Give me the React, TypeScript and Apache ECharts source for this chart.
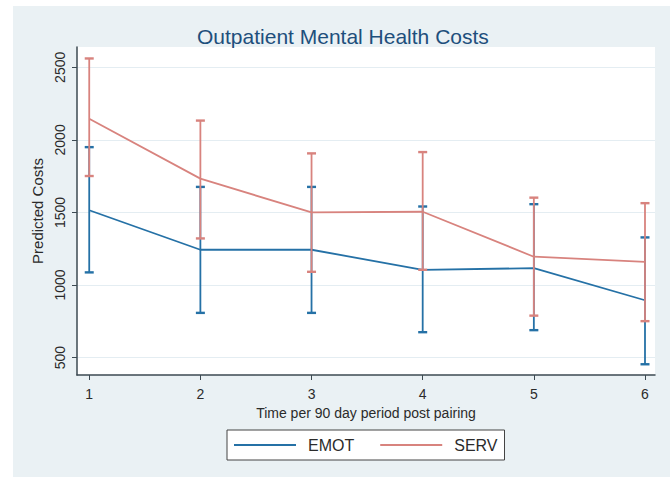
import React, { useEffect, useRef } from "react";
import * as echarts from "echarts";

const periods = [1, 2, 3, 4, 5, 6];
const emotMean = [1515, 1243, 1243, 1105, 1116, 895];
const emotLower = [1087, 808, 808, 675, 689, 454];
const emotUpper = [1950, 1676, 1676, 1541, 1557, 1328];
const servMean = [2146, 1733, 1500, 1505, 1195, 1160];
const servLower = [1751, 1321, 1091, 1105, 789, 751];
const servUpper = [2561, 2133, 1907, 1916, 1602, 1564];
const yTicks = [500, 1000, 1500, 2000, 2500];

const BLUE = "#2571a6";
const RED = "#d8837e";
const FONT = "Liberation Sans, Arial, sans-serif";

function errorBars(lower: number[], upper: number[]) {
  return periods.map((p, i) => [p, lower[i], upper[i]]);
}

function makeRender(color: string) {
  return (params: any, api: any) => {
    const x = api.value(0);
    const lo = api.coord([x, api.value(1)]);
    const hi = api.coord([x, api.value(2)]);
    const hw = 4.5;
    const style = { stroke: color, lineWidth: 1.8 };
    return {
      type: "group",
      children: [
        { type: "line", shape: { x1: lo[0], y1: lo[1], x2: hi[0], y2: hi[1] }, style },
        { type: "line", shape: { x1: lo[0] - hw, y1: lo[1], x2: lo[0] + hw, y2: lo[1] }, style: { stroke: color, lineWidth: 2.4 } },
        { type: "line", shape: { x1: hi[0] - hw, y1: hi[1], x2: hi[0] + hw, y2: hi[1] }, style: { stroke: color, lineWidth: 2.4 } },
      ],
    };
  };
}

export default function App() {
  const ref = useRef<HTMLDivElement>(null);
  useEffect(() => {
    if (!ref.current) return;
    const chart = echarts.init(ref.current, undefined, { renderer: "svg" });
    chart.setOption({
      animation: false,
      backgroundColor: "#ffffff",
      textStyle: { fontFamily: FONT },
      graphic: [
        { type: "rect", z: -10, silent: true, shape: { x: 13, y: 6, width: 657, height: 471 }, style: { fill: "#eaf1f4" } },
      ],
      title: {
        text: "Outpatient Mental Health Costs",
        left: 192,
        top: 21,
        textStyle: { fontFamily: FONT, fontSize: 21, fontWeight: "normal", color: "#1e4f7c" },
      },
      grid: {
        left: 77,
        right: 15,
        top: 47,
        bottom: 103,
        show: true,
        backgroundColor: "#ffffff",
        borderWidth: 0,
      },
      legend: {
        left: 227,
        top: 430,
        padding: [7, 7, 7, 7],
        backgroundColor: "#ffffff",
        borderColor: "#444",
        borderWidth: 1,
        itemWidth: 62,
        itemHeight: 2,
        itemGap: 26,
        icon: "rect",
        data: ["EMOT", "SERV"],
        textStyle: { fontFamily: FONT, fontSize: 16, color: "#2b2b2b", padding: [0, 0, 0, 7] },
      },
      xAxis: {
        type: "value",
        min: 0.89,
        max: 6.09,
        name: "Time per 90 day period post pairing",
        nameLocation: "middle",
        nameGap: 30,
        nameTextStyle: { fontFamily: FONT, fontSize: 14, color: "#2b2b2b" },
        axisLine: { lineStyle: { color: "#3d4a52", width: 1.5 } },
        axisTick: { show: true, length: 5, customValues: periods, lineStyle: { color: "#3d4a52" } },
        axisLabel: { customValues: periods, fontSize: 14, color: "#2b2b2b", margin: 12 },
        splitLine: { show: false },
      },
      yAxis: {
        type: "value",
        min: 380,
        max: 2640,
        name: "Predicted Costs",
        nameLocation: "middle",
        nameGap: 31,
        nameTextStyle: { fontFamily: FONT, fontSize: 15, color: "#2b2b2b" },
        axisLine: { show: true, lineStyle: { color: "#3d4a52", width: 1.5 } },
        axisTick: { show: true, length: 5, customValues: yTicks, lineStyle: { color: "#3d4a52" } },
        axisLabel: {
          customValues: yTicks,
          rotate: 90,
          fontSize: 14,
          color: "#2b2b2b",
          margin: 10,
          formatter: (v: number) => String(v),
        },
        splitLine: { show: true, lineStyle: { color: "#e4edf2", width: 1 } },
      },
      series: [
        {
          name: "EMOT",
          type: "line",
          data: periods.map((p, i) => [p, emotMean[i]]),
          showSymbol: false,
          itemStyle: { color: BLUE },
          lineStyle: { color: BLUE, width: 1.8 },
          z: 2,
        },
        {
          name: "EMOT bars",
          type: "custom",
          data: errorBars(emotLower, emotUpper),
          renderItem: makeRender(BLUE),
          z: 3,
        },
        {
          name: "SERV",
          type: "line",
          data: periods.map((p, i) => [p, servMean[i]]),
          showSymbol: false,
          itemStyle: { color: RED },
          lineStyle: { color: RED, width: 1.8 },
          z: 4,
        },
        {
          name: "SERV bars",
          type: "custom",
          data: errorBars(servLower, servUpper),
          renderItem: makeRender(RED),
          z: 5,
        },
      ],
    });
    return () => chart.dispose();
  }, []);
  return (
    <div
      ref={ref}
      style={{ position: "absolute", left: 0, top: 0, width: 670, height: 478 }}
    />
  );
}
